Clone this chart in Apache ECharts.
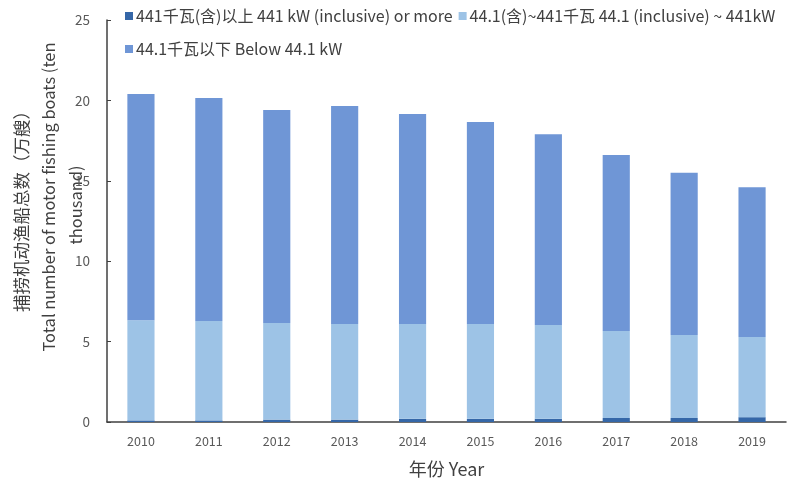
<!DOCTYPE html>
<html><head><meta charset="utf-8">
<script src="https://cdn.jsdelivr.net/npm/echarts@6/dist/echarts.min.js"></script>
<style>html,body{margin:0;padding:0;background:#fff}#c{width:787px;height:483px}</style>
</head><body><div id="c"></div>
<script>
const years = ['2010','2011','2012','2013','2014','2015','2016','2017','2018','2019'];
const large = [0.1,0.1,0.15,0.15,0.2,0.2,0.2,0.25,0.25,0.3];
const medium = [6.22,6.18,6.01,5.95,5.9,5.9,5.83,5.41,5.16,4.99];
const small = [14.08,13.87,13.24,13.55,13.05,12.56,11.87,10.94,10.09,9.31];
const yTicks = [0,5,10,15,20,25];
const names = ['441千瓦(含)以上 441 kW (inclusive) or more','44.1(含)~441千瓦 44.1 (inclusive) ~ 441kW','44.1千瓦以下 Below 44.1 kW'];
const FONT = '"Noto Sans CJK SC", "Open Sans", sans-serif';
const chart = echarts.init(document.getElementById('c'));
chart.setOption({
  animation:false,
  textStyle:{fontFamily:FONT},
  legend:[
    {data:[names[0],names[1]],left:120,top:3,itemWidth:8,itemHeight:8,icon:'rect',itemGap:6,
     textStyle:{fontSize:16,color:'#404040',fontFamily:FONT,padding:[0,0,0,-2]}},
    {data:[names[2]],left:120,top:36,itemWidth:8,itemHeight:8,icon:'rect',
     textStyle:{fontSize:16,color:'#404040',fontFamily:FONT,padding:[0,0,0,-2]}}
  ],
  grid:{left:107,right:1,top:20,bottom:61},
  xAxis:{type:'category',data:years,
    axisLine:{lineStyle:{color:'#404040',width:1.5}},
    axisTick:{inside:true,length:4,lineStyle:{color:'#404040'}},
    axisLabel:{color:'#595959',fontSize:12.5,margin:13,fontFamily:FONT},
    name:'年份 Year',nameLocation:'middle',nameGap:38,
    nameTextStyle:{fontSize:18,color:'#404040',fontFamily:FONT}},
  yAxis:{type:'value',min:yTicks[0],max:yTicks[yTicks.length-1],interval:5,
    axisLine:{show:true,lineStyle:{color:'#404040',width:1.5}},
    axisTick:{show:true,inside:true,length:4,lineStyle:{color:'#404040'}},
    splitLine:{show:false},
    axisLabel:{color:'#595959',fontSize:13.5,margin:17,fontFamily:FONT}},
  graphic:[
    {type:'text',x:21,y:207,rotation:Math.PI/2,
     style:{text:'捕捞机动渔船总数（万艘）',fontSize:17.5,fill:'#404040',fontFamily:FONT,textAlign:'center',textVerticalAlign:'middle'}},
    {type:'text',x:49,y:197,rotation:Math.PI/2,
     style:{text:'Total number of motor fishing boats (ten',fontSize:16.5,fill:'#404040',fontFamily:FONT,textAlign:'center',textVerticalAlign:'middle'}},
    {type:'text',x:76,y:205,rotation:Math.PI/2,
     style:{text:'thousand)',fontSize:16.5,fill:'#404040',fontFamily:FONT,textAlign:'center',textVerticalAlign:'middle'}}
  ],
  series:[
    {name:names[0],type:'bar',stack:'a',data:large,barWidth:'40%',itemStyle:{color:'#3567a8'}},
    {name:names[1],type:'bar',stack:'a',data:medium,itemStyle:{color:'#9dc3e6'}},
    {name:names[2],type:'bar',stack:'a',data:small,itemStyle:{color:'#6f96d6'}}
  ]
});
</script></body></html>
